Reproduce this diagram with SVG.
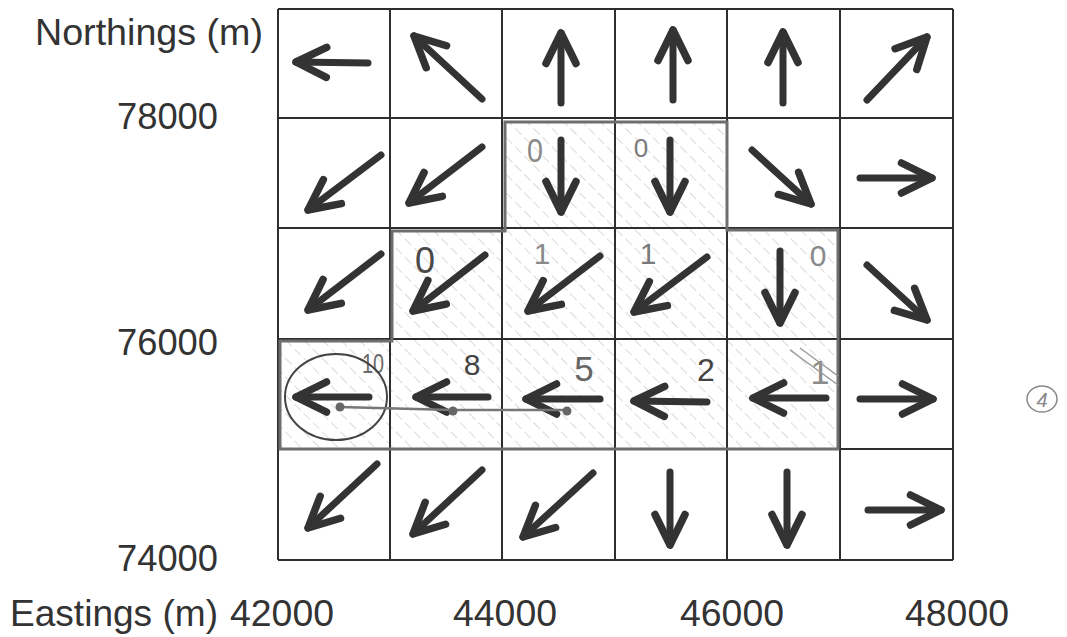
<svg xmlns="http://www.w3.org/2000/svg" width="1067" height="637" viewBox="0 0 1067 637">
<style>
.ax{font-family:"Liberation Sans",Arial,sans-serif;font-size:37px;fill:#333}
.grid{stroke:#2e2e2e;stroke-width:2;fill:none}
.arr{stroke:#333;stroke-width:7;stroke-linecap:round;fill:none;marker-end:url(#head)}
.hand{font-family:"Liberation Sans",Arial,sans-serif;text-anchor:middle;font-weight:normal}
</style>
<defs>
<marker id="head" markerUnits="userSpaceOnUse" viewBox="-40 -20 46 40" markerWidth="46" markerHeight="40" refX="0" refY="0" orient="auto" overflow="visible">
<path d="M-30.5,-15 L0,0 L-30.5,15" stroke="#333" stroke-width="7.5" fill="none" stroke-linecap="round" stroke-linejoin="round"/>
</marker>
<pattern id="hatch" patternUnits="userSpaceOnUse" width="13" height="13" patternTransform="rotate(-45)">
<line x1="0" y1="0" x2="0" y2="13" stroke="#c4c4c4" stroke-width="1.3" stroke-dasharray="9 4"/>
</pattern>
</defs>
<rect width="1067" height="637" fill="#fff"/>

<g id="shaded-region">
<path d="M505,122 L727,122 L727,230 L838,230 L838,449 L280,449 L280,341 L392,341 L392,231 L505,231 Z" fill="url(#hatch)"/>
</g>

<g id="grid">
<path class="grid" d="M278,9 H953 M278,118 H953 M278,228 H953 M278,339 H953 M278,449 H953 M278,560 H953 M278,9 V560 M390,9 V560 M502,9 V560 M615,9 V560 M727,9 V560 M840,9 V560 M953,9 V560"/>
</g>

<g id="shaded-outline">
<path d="M505,122 L727,122 L727,230 L838,230 L838,449 L280,449 L280,341 L392,341 L392,231 L505,231 Z" fill="none" stroke="#6e6e6e" stroke-width="3"/>
</g>

<g id="axis-labels">
<text class="ax" x="35" y="45" textLength="228" lengthAdjust="spacingAndGlyphs">Northings (m)</text>
<text class="ax" x="117" y="129" textLength="101" lengthAdjust="spacingAndGlyphs">78000</text>
<text class="ax" x="117" y="355" textLength="101" lengthAdjust="spacingAndGlyphs">76000</text>
<text class="ax" x="117" y="571" textLength="101" lengthAdjust="spacingAndGlyphs">74000</text>
<text class="ax" x="10" y="626" textLength="208" lengthAdjust="spacingAndGlyphs">Eastings (m)</text>
<text class="ax" x="230" y="626" textLength="104" lengthAdjust="spacingAndGlyphs">42000</text>
<text class="ax" x="453" y="626" textLength="104" lengthAdjust="spacingAndGlyphs">44000</text>
<text class="ax" x="680" y="626" textLength="104" lengthAdjust="spacingAndGlyphs">46000</text>
<text class="ax" x="905" y="626" textLength="104" lengthAdjust="spacingAndGlyphs">48000</text>
</g>

<g id="arrows">
<g id="r0c0"><line class="arr" x1="368" y1="63" x2="296" y2="62"/></g>
<g id="r0c1"><line class="arr" x1="482" y1="99" x2="414" y2="36"/></g>
<g id="r0c2"><line class="arr" x1="561" y1="103" x2="561" y2="33"/></g>
<g id="r0c3"><line class="arr" x1="673" y1="100" x2="673" y2="30"/></g>
<g id="r0c4"><line class="arr" x1="783" y1="103" x2="783" y2="32"/></g>
<g id="r0c5"><line class="arr" x1="867" y1="100" x2="927" y2="37"/></g>

<g id="r1c0"><line class="arr" x1="381" y1="155" x2="308" y2="210"/></g>
<g id="r1c1"><line class="arr" x1="482" y1="147" x2="409" y2="203"/></g>
<g id="r1c2"><line class="arr" x1="561" y1="140" x2="561" y2="212"/></g>
<g id="r1c3"><line class="arr" x1="670" y1="140" x2="670" y2="212"/></g>
<g id="r1c4"><line class="arr" x1="752" y1="150" x2="811" y2="204"/></g>
<g id="r1c5"><line class="arr" x1="860" y1="178" x2="932" y2="178"/></g>

<g id="r2c0"><line class="arr" x1="381" y1="254" x2="308" y2="310"/></g>
<g id="r2c1"><line class="arr" x1="485" y1="255" x2="413" y2="311"/></g>
<g id="r2c2"><line class="arr" x1="600" y1="256" x2="528" y2="311"/></g>
<g id="r2c3"><line class="arr" x1="707" y1="257" x2="634" y2="312"/></g>
<g id="r2c4"><line class="arr" x1="780" y1="251" x2="780" y2="323"/></g>
<g id="r2c5"><line class="arr" x1="867" y1="265" x2="927" y2="320"/></g>

<g id="r3c0"><line class="arr" x1="369" y1="397" x2="296" y2="397"/></g>
<g id="r3c1"><line class="arr" x1="488" y1="397" x2="416" y2="397"/></g>
<g id="r3c2"><line class="arr" x1="600" y1="399" x2="526" y2="399"/></g>
<g id="r3c3"><line class="arr" x1="707" y1="402" x2="634" y2="401"/></g>
<g id="r3c4"><line class="arr" x1="826" y1="398" x2="753" y2="398"/></g>
<g id="r3c5"><line class="arr" x1="860" y1="399" x2="933" y2="399"/></g>

<g id="r4c0"><line class="arr" x1="377" y1="464" x2="308" y2="528"/></g>
<g id="r4c1"><line class="arr" x1="482" y1="470" x2="413" y2="534"/></g>
<g id="r4c2"><line class="arr" x1="593" y1="473" x2="523" y2="537"/></g>
<g id="r4c3"><line class="arr" x1="670" y1="472" x2="670" y2="545"/></g>
<g id="r4c4"><line class="arr" x1="787" y1="472" x2="787" y2="545"/></g>
<g id="r4c5"><line class="arr" x1="868" y1="510" x2="941" y2="510"/></g>
</g>

<g id="annotations">
<text class="hand" x="535" y="162" font-size="34" fill="#8a8a8a" textLength="16" lengthAdjust="spacingAndGlyphs">0</text>
<text class="hand" x="641" y="157" font-size="26" fill="#7a7a7a">0</text>
<text class="hand" x="425" y="273" font-size="36" fill="#4a4a4a">0</text>
<text class="hand" x="542" y="264" font-size="30" fill="#8a8a8a">1</text>
<text class="hand" x="648" y="264" font-size="30" fill="#7a7a7a">1</text>
<text class="hand" x="818" y="266" font-size="30" fill="#8a8a8a">0</text>
<text class="hand" x="373" y="373" font-size="28" fill="#6a6a6a" textLength="22" lengthAdjust="spacingAndGlyphs">10</text>
<text class="hand" x="472" y="375" font-size="30" fill="#444">8</text>
<text class="hand" x="584" y="381" font-size="35" fill="#666">5</text>
<text class="hand" x="706" y="381" font-size="32" fill="#444">2</text>
<text class="hand" x="820" y="384" font-size="34" fill="#8a8a8a">1</text>
<path d="M790,350 L838,385 M800,348 L838,376" stroke="#9a9a9a" stroke-width="1.5" fill="none"/>
</g>

<g id="path-trace">
<ellipse cx="336" cy="397" rx="51" ry="43" fill="none" stroke="#444" stroke-width="2"/>
<path d="M340,407 L453,410 L567,410" fill="none" stroke="#777" stroke-width="2.5"/>
<circle cx="340" cy="407" r="4.5" fill="#666"/>
<circle cx="453" cy="411" r="4.5" fill="#666"/>
<circle cx="567" cy="411" r="4.5" fill="#666"/>
</g>

<g id="page-number">
<ellipse cx="1042" cy="399" rx="15" ry="13" fill="none" stroke="#888" stroke-width="1.5"/>
<text class="hand" x="1042" y="407" font-size="20" fill="#888" font-style="italic">4</text>
</g>
</svg>
